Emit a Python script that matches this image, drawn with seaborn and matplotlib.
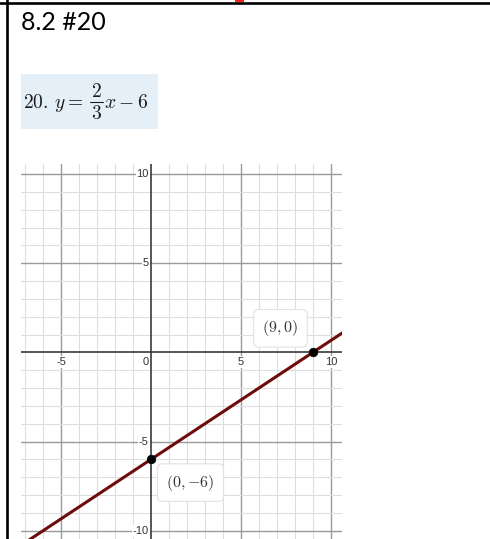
import numpy as np
import pandas as pd
import seaborn as sns
import matplotlib.pyplot as plt
from matplotlib.patches import Rectangle
from matplotlib.lines import Line2D

# --- values ---
point_x = [0, 9]
point_y = [-6, 0]
point_labels = [r"$(0,{-6})$", r"$(9,0)$"]

x_tick_vals = [-5, 0, 5, 10]
x_tick_labels = ["-5", "0", "5", "10"]
y_tick_vals = [10, 5, -5, -10]
y_tick_labels = ["10", "5", "-5", "-10"]

title_text = "8.2 #20"
eq_left = r"$20.\,y=$"
eq_num, eq_den = r"$\mathbf{2}$", r"$\mathbf{3}$"
eq_right = r"$x-6$"

# --- figure / page bits ---
sns.set_style("white")
plt.rcParams["mathtext.fontset"] = "cm"
plt.rcParams["font.family"] = ["Liberation Sans", "DejaVu Sans"]

W, H = 490, 539
fig = plt.figure(figsize=(W / 100, H / 100), dpi=100)


def fx(px):
    return px / W


def fy(py):
    return 1 - py / H


# table borders from the document
fig.add_artist(Line2D([fx(7), fx(7)], [0, 1], color="black", lw=1.9))
fig.add_artist(Line2D([0, 1], [fy(2.5), fy(2.5)], color="black", lw=1.9))
fig.add_artist(Rectangle((fx(235), fy(2)), fx(9), 2 / H, color="#ff2020", lw=0))

fig.text(fx(21), fy(22), title_text, fontsize=18, family=["Lato", "DejaVu Sans"],
         va="center", ha="left", color="black")

# equation in its shaded box
fig.add_artist(Rectangle((fx(21), fy(129)), fx(137), 55 / H,
                         facecolor="#e4eff8", edgecolor="none"))
eq_col = "#1a1a1a"
fig.text(fx(23), fy(108), eq_left, fontsize=14, va="baseline", ha="left", color=eq_col)
fig.text(fx(96.5), fy(97), eq_num, fontsize=14, va="baseline", ha="center", color=eq_col)
fig.text(fx(96.5), fy(119), eq_den, fontsize=14, va="baseline", ha="center", color=eq_col)
fig.add_artist(Line2D([fx(90), fx(103)], [fy(101.5), fy(101.5)], color=eq_col, lw=0.8))
fig.text(fx(104), fy(108), eq_right, fontsize=14, va="baseline", ha="left", color=eq_col)

# --- the graph ---
xlim = (-7.22, 10.62)
ylim = (-10.46, 10.56)
ax = fig.add_axes([fx(21), 0, fx(321), (H - 164) / H])
ax.set_xlim(*xlim)
ax.set_ylim(*ylim)
for s in ax.spines.values():
    s.set_visible(False)
ax.set_xticks([])
ax.set_yticks([])

for v in np.arange(-7, 11):
    c, w = ("#dedede", 0.8) if v % 5 else ("#9a9a9a", 1.0)
    if v == 0:
        c, w = ("#3a3a3a", 1.2)
    ax.axvline(v, color=c, lw=w, zorder=1 if v else 2)
for v in np.arange(-10, 11):
    c, w = ("#dedede", 0.8) if v % 5 else ("#9a9a9a", 1.0)
    if v == 0:
        c, w = ("#3a3a3a", 1.2)
    ax.axhline(v, color=c, lw=w, zorder=1 if v else 2)

lbl_box = dict(facecolor="white", edgecolor="none", pad=0.6)
for v, t in zip(x_tick_vals, x_tick_labels):
    xx = -0.3 if v == 0 else v
    ax.text(xx, -0.55, t, fontsize=8, color="#333333", ha="center", va="center",
            bbox=lbl_box, zorder=3)
for v, t in zip(y_tick_vals, y_tick_labels):
    ax.text(-0.12, v, t, fontsize=8, color="#333333", ha="right", va="center",
            bbox=lbl_box, zorder=3)

# line through the two labelled points
slope = (point_y[1] - point_y[0]) / (point_x[1] - point_x[0])
line_df = pd.DataFrame({"x": list(xlim)})
line_df["y"] = point_y[0] + slope * (line_df["x"] - point_x[0])
sns.lineplot(data=line_df, x="x", y="y", ax=ax, color="#6e0b0b", lw=2.2, zorder=4)

pts = pd.DataFrame({"x": point_x, "y": point_y})
sns.scatterplot(data=pts, x="x", y="y", ax=ax, color="black", s=38,
                edgecolor="black", zorder=5)

label_pos = [(2.2, -7.3), (7.2, 1.35)]
for (lx, ly), t in zip(label_pos, point_labels):
    ax.text(lx, ly, t, fontsize=11.5, color="#333333", ha="center", va="center",
            zorder=6,
            bbox=dict(boxstyle="round,pad=0.55,rounding_size=0.3",
                      facecolor="white", edgecolor="#e2e2e2", lw=0.8))

ax.set_xlabel("")
ax.set_ylabel("")
ax.set_xlim(*xlim)
ax.set_ylim(*ylim)

fig.savefig("out.png", dpi=100)
